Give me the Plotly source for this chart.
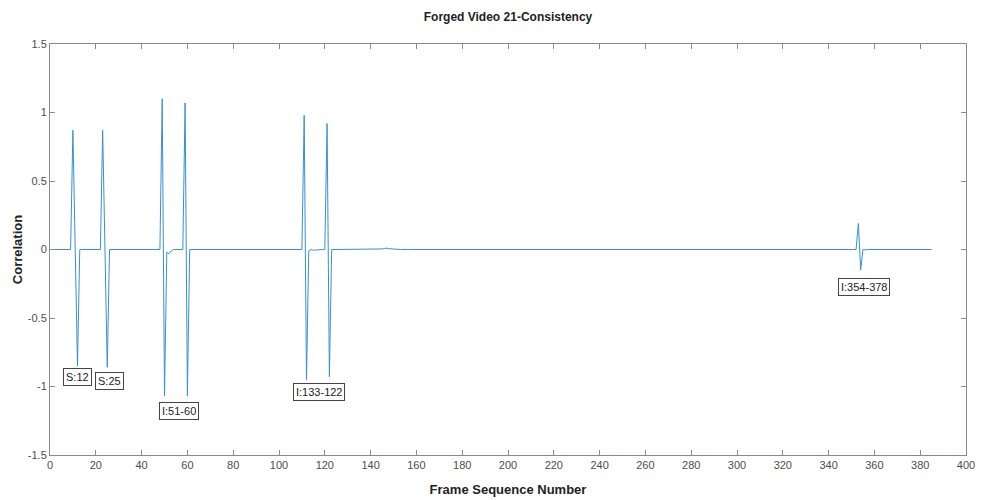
import plotly.graph_objects as go

# Frame numbers 1..385; correlation is ~0 except at the listed frames
n_frames = 385
event_frames = [10, 12, 23, 25, 49, 50, 51, 52, 53, 59, 60,
                111, 112, 113, 114, 115, 116, 117, 118, 121, 122,
                145, 146, 147, 148, 149, 150, 152, 155, 175, 177, 179, 181, 183,
                353, 354, 356, 360, 364, 366]
event_values = [0.87, -0.85, 0.87, -0.86, 1.10, -1.07, -0.02, -0.03, -0.01, 1.07, -1.07,
                0.98, -0.95, -0.01, 0.0, -0.005, -0.003, 0.0, -0.002, 0.92, -0.93,
                0.004, 0.007, 0.01, 0.006, 0.004, 0.002, 0.003, 0.002, -0.002, -0.003, -0.005, -0.004, -0.002,
                0.19, -0.15, -0.003, -0.002, -0.005, -0.003]

label_texts = ["S:12", "S:25", "I:51-60", "I:133-122", "I:354-378"]
label_x = [11.8, 25.8, 56.4, 117.5, 355.5]
label_y = [-0.93, -0.96, -1.18, -1.04, -0.275]

frames = list(range(1, n_frames + 1))
values = [0.0] * n_frames
for f, v in zip(event_frames, event_values):
    values[f - 1] = v

x_ticks = list(range(0, 401, 20))
y_ticks = [-1.5, -1, -0.5, 0, 0.5, 1, 1.5]
y_tick_labels = ["-1.5", "-1", "-0.5", "0", "0.5", "1", "1.5"]

fig = go.Figure()
fig.add_trace(go.Scatter(x=frames, y=values, mode="lines",
                         line=dict(color="#3a8fd2", width=1), showlegend=False,
                         hoverinfo="x+y"))

for t, lx, ly in zip(label_texts, label_x, label_y):
    fig.add_annotation(x=lx, y=ly, xref="x", yref="y", text=t, showarrow=False,
                       font=dict(family="Liberation Sans, Arial", size=11, color="#222"),
                       bgcolor="white", bordercolor="#444", borderwidth=1, borderpad=2)

axis_common = dict(showgrid=False, zeroline=False, showline=True, mirror="ticks",
                   linecolor="#8a8a8a", linewidth=1, ticks="inside", ticklen=5,
                   tickcolor="#8a8a8a", automargin=False,
                   tickfont=dict(family="Liberation Sans, Arial", size=11, color="#4d4d4d"))

fig.update_layout(
    width=982, height=500,
    margin=dict(l=50, r=16, t=44, b=45, autoexpand=False),
    paper_bgcolor="white", plot_bgcolor="white",
    title=dict(text="<b>Forged Video 21-Consistency</b>", x=0.5, xref="paper",
               y=1 - 17 / 500, yanchor="middle", automargin=False,
               font=dict(family="Liberation Sans, Arial", size=12, color="#222")),
    xaxis=dict(range=[0, 400], tickvals=x_ticks, **axis_common,
               title=dict(text="<b>Frame Sequence Number</b>", standoff=14,
                          font=dict(family="Liberation Sans, Arial", size=13, color="#222"))),
    yaxis=dict(range=[-1.5, 1.5], tickvals=y_ticks, ticktext=y_tick_labels, **axis_common,
               title=dict(text="<b>Correlation</b>", standoff=2,
                          font=dict(family="Liberation Sans, Arial", size=13, color="#222"))),
)

fig.write_html("out.html", config={"displayModeBar": False},
               post_script="document.body.style.margin='0';document.body.style.overflow='hidden';")
